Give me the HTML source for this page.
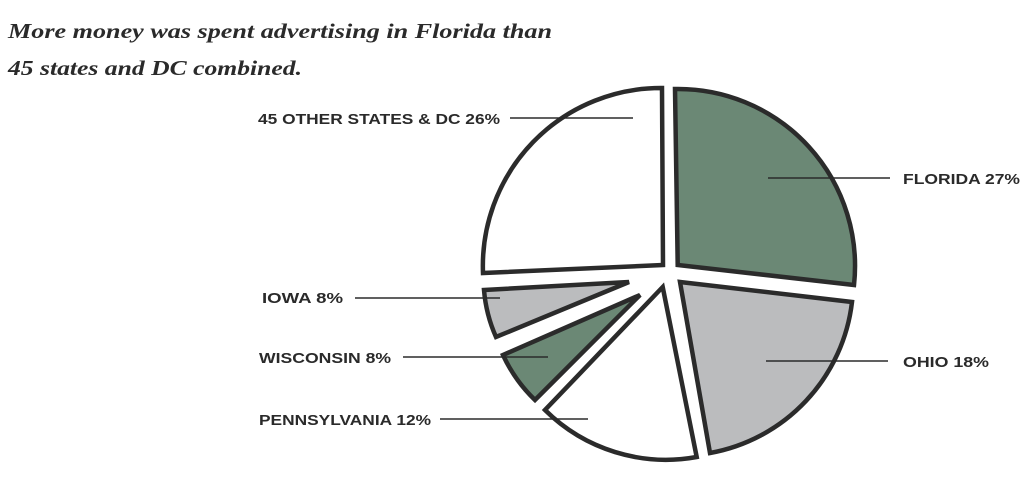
<!DOCTYPE html>
<html><head><meta charset="utf-8"><style>
html,body{margin:0;padding:0;background:#fff;}
svg{display:block;}
.t{font-family:"Liberation Serif",serif;font-style:italic;font-weight:bold;font-size:21px;fill:#2a2a2a;}
.l{font-family:"Liberation Sans",sans-serif;font-weight:bold;font-size:15px;fill:#2a2a2a;}
</style></head><body>
<svg width="1024" height="489" viewBox="0 0 1024 489" xmlns="http://www.w3.org/2000/svg">
<text class="t" x="8" y="38" textLength="544" lengthAdjust="spacingAndGlyphs">More money was spent advertising in Florida than</text>
<text class="t" x="8" y="75" textLength="294" lengthAdjust="spacingAndGlyphs">45 states and DC combined.</text>
<g stroke="#2b2b2b" stroke-width="4.5" stroke-linejoin="miter">
<path d="M677.7,265 L675,89 A177,177 0 0 1 854,285 Z" fill="#6b8875"/>
<path d="M680,282 L852,302 A174,174 0 0 1 710,453 Z" fill="#bbbcbe"/>
<path d="M662.7,287 L696.7,457 A172,172 0 0 1 545,410 Z" fill="#fff"/>
<path d="M640,295 L535,400 A149,149 0 0 1 503,355 Z" fill="#6b8875"/>
<path d="M629,282 L496,337 A145,145 0 0 1 484,290 Z" fill="#bbbcbe"/>
<path d="M663,265 L483,273 A178,178 0 0 1 662,88 Z" fill="#fff"/>
</g>
<g stroke="#2b2b2b" stroke-width="1.5">
<line x1="510" y1="118" x2="633" y2="118"/>
<line x1="768" y1="178" x2="890" y2="178"/>
<line x1="766" y1="361" x2="888" y2="361"/>
<line x1="355" y1="298" x2="500" y2="298"/>
<line x1="403" y1="357" x2="548" y2="357"/>
<line x1="440" y1="419" x2="588" y2="419"/>
</g>
<text class="l" x="258" y="124" textLength="242" lengthAdjust="spacingAndGlyphs">45 OTHER STATES &amp; DC 26%</text>
<text class="l" x="903" y="184" textLength="117" lengthAdjust="spacingAndGlyphs">FLORIDA 27%</text>
<text class="l" x="903" y="367" textLength="86" lengthAdjust="spacingAndGlyphs">OHIO 18%</text>
<text class="l" x="262" y="303" textLength="81" lengthAdjust="spacingAndGlyphs">IOWA 8%</text>
<text class="l" x="259" y="363" textLength="132" lengthAdjust="spacingAndGlyphs">WISCONSIN 8%</text>
<text class="l" x="259" y="425" textLength="172" lengthAdjust="spacingAndGlyphs">PENNSYLVANIA 12%</text>
</svg>
</body></html>
